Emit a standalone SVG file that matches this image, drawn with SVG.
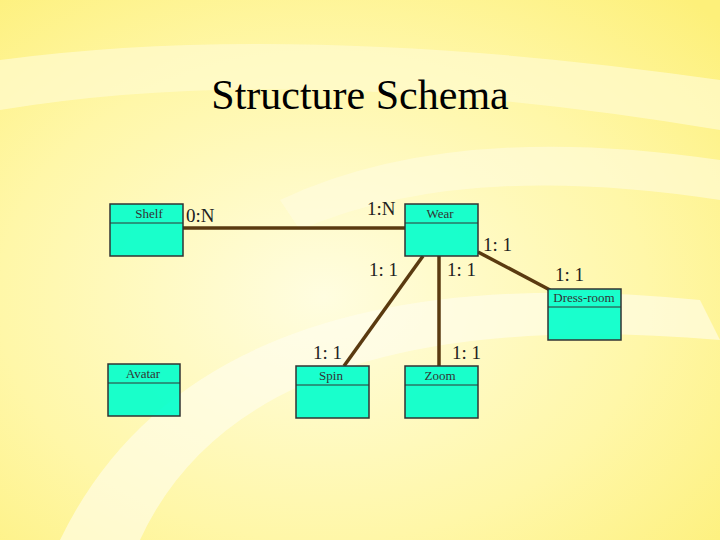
<svg xmlns="http://www.w3.org/2000/svg" width="720" height="540" viewBox="0 0 720 540">
<defs>
<radialGradient id="bg" cx="0.45" cy="0.55" r="0.75">
<stop offset="0" stop-color="#fffde0"/>
<stop offset="0.6" stop-color="#fff7a8"/>
<stop offset="1" stop-color="#fdf07a"/>
</radialGradient>
<style>
.box{fill:#00ffcc;fill-opacity:0.9;stroke:#333;stroke-width:1.5}
.div{stroke:#333;stroke-width:1}
.nt{font-size:13px;fill:#333;text-anchor:middle}
.lb{font-size:19px;fill:#222}
.ln{stroke:#5a3a10;stroke-width:3.5;fill:none}
</style>
</defs>
<rect width="720" height="540" fill="url(#bg)"/>
<path d="M0 60 Q300 20 720 80 L720 130 Q300 60 0 110Z" fill="#fffbd0" opacity="0.7"/>
<path d="M60 540 Q200 250 700 300 L720 340 Q250 300 140 540Z" fill="#fffef0" opacity="0.6"/>
<path d="M280 200 Q450 120 720 160 L720 200 Q460 160 300 230Z" fill="#fffce0" opacity="0.6"/>
<text x="360" y="109" font-family="Liberation Serif,serif" font-size="42" text-anchor="middle" fill="#000">Structure Schema</text>
<g id="connectors">
<line class="ln" x1="183" y1="228" x2="405" y2="228"/>
<line class="ln" x1="423" y1="256" x2="344" y2="366"/>
<line class="ln" x1="439" y1="256" x2="439" y2="366"/>
<line class="ln" x1="478" y1="252" x2="550" y2="290"/>
</g>
<g id="labels" font-family="Liberation Serif,serif">
<text class="lb" x="186" y="222">0:N</text>
<text class="lb" x="367" y="215">1:N</text>
<text class="lb" x="483" y="251">1: 1</text>
<text class="lb" x="369" y="276">1: 1</text>
<text class="lb" x="447" y="276">1: 1</text>
<text class="lb" x="555" y="281">1: 1</text>
<text class="lb" x="313" y="359">1: 1</text>
<text class="lb" x="452" y="359">1: 1</text>
</g>
<g font-family="Liberation Serif,serif">
<g id="shelf"><rect class="box" x="110" y="204" width="73" height="52"/><line class="div" x1="110" y1="223" x2="183" y2="223"/><text class="nt" x="149" y="218">Shelf</text></g>
<g id="wear"><rect class="box" x="405" y="204" width="73" height="52"/><line class="div" x1="405" y1="223" x2="478" y2="223"/><text class="nt" x="440" y="218">Wear</text></g>
<g id="dressroom"><rect class="box" x="548" y="289" width="73" height="51"/><line class="div" x1="548" y1="307" x2="621" y2="307"/><text class="nt" x="584" y="302">Dress-room</text></g>
<g id="avatar"><rect class="box" x="108" y="364" width="72" height="52"/><line class="div" x1="108" y1="383" x2="180" y2="383"/><text class="nt" x="143" y="378">Avatar</text></g>
<g id="spin"><rect class="box" x="296" y="366" width="73" height="52"/><line class="div" x1="296" y1="385" x2="369" y2="385"/><text class="nt" x="331" y="380">Spin</text></g>
<g id="zoom"><rect class="box" x="405" y="366" width="73" height="52"/><line class="div" x1="405" y1="385" x2="478" y2="385"/><text class="nt" x="440" y="380">Zoom</text></g>
</g>
</svg>
